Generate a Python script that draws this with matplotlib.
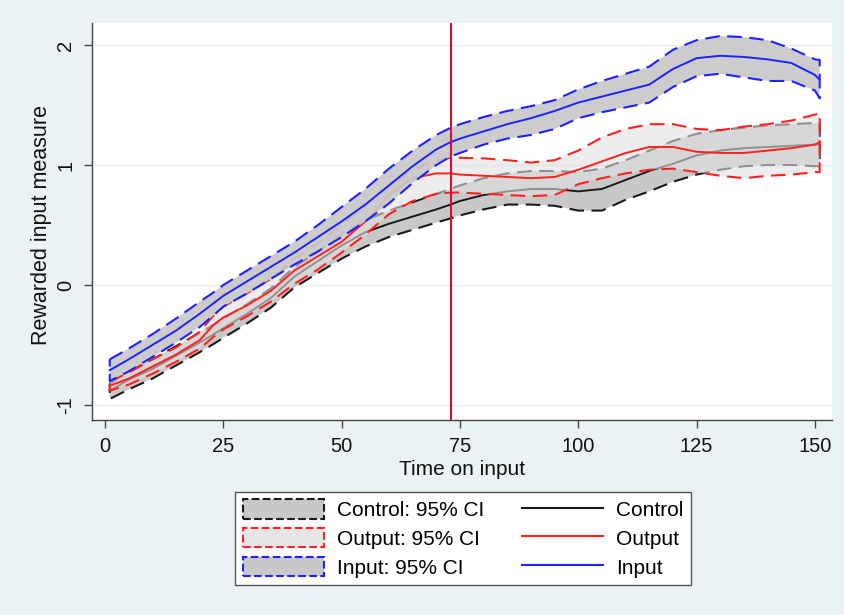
import matplotlib
matplotlib.use("Agg")
import matplotlib.pyplot as plt
from matplotlib.patches import Patch
from matplotlib.lines import Line2D
import numpy as np

plt.rcParams['font.family'] = ['Liberation Sans', 'DejaVu Sans']

time = [1, 5, 10, 15, 20, 23, 25, 30, 35, 40, 45, 50, 55, 60, 65, 70, 73, 75, 80, 85,
        90, 95, 100, 105, 110, 115, 120, 125, 130, 135, 140, 145, 150, 151]

control_mean = [-0.88, -0.79, -0.70, -0.59, -0.48, -0.41, -0.36, -0.24, -0.11, 0.07, 0.20, 0.33, 0.44,
                0.51, 0.57, 0.63, 0.67, 0.70, 0.75, 0.78, 0.80, 0.80, 0.78, 0.80, 0.875, 0.95,
                1.01, 1.08, 1.12, 1.14, 1.15, 1.16, 1.17, 1.17]
control_lo = [-0.95, -0.87, -0.78, -0.67, -0.56, -0.49, -0.44, -0.32, -0.19, -0.02, 0.10, 0.22, 0.32,
              0.40, 0.46, 0.52, 0.555, 0.58, 0.63, 0.67, 0.67, 0.66, 0.62, 0.62, 0.71, 0.78,
              0.86, 0.92, 0.96, 0.99, 1.00, 1.00, 0.99, 0.99]
control_hi = [-0.82, -0.72, -0.62, -0.51, -0.40, -0.33, -0.28, -0.16, -0.03, 0.15, 0.28, 0.43, 0.54,
              0.62, 0.69, 0.76, 0.80, 0.83, 0.89, 0.93, 0.95, 0.95, 0.94, 0.97, 1.04, 1.12,
              1.20, 1.26, 1.29, 1.31, 1.33, 1.34, 1.35, 1.35]

output_mean = [-0.84, -0.78, -0.68, -0.58, -0.46, -0.33, -0.27, -0.17, -0.05, 0.12, 0.24, 0.36, 0.53,
               0.75, 0.89, 0.93, 0.93, 0.92, 0.91, 0.90, 0.89, 0.90, 0.96, 1.03, 1.10, 1.15,
               1.15, 1.11, 1.10, 1.10, 1.12, 1.14, 1.17, 1.19]
output_lo = [-0.88, -0.83, -0.74, -0.64, -0.53, -0.43, -0.37, -0.26, -0.14, 0.01, 0.13, 0.27, 0.42,
             0.59, 0.70, 0.76, 0.77, 0.77, 0.76, 0.75, 0.74, 0.75, 0.84, 0.89, 0.93, 0.96,
             0.97, 0.94, 0.91, 0.89, 0.91, 0.92, 0.94, 0.94]
output_hi = [-0.80, -0.73, -0.62, -0.52, -0.39, -0.25, -0.18, -0.07, 0.05, 0.22, 0.35, 0.50, 0.66,
             0.82, 0.96, 1.04, 1.06, 1.06, 1.055, 1.04, 1.02, 1.04, 1.12, 1.23, 1.30, 1.34,
             1.34, 1.30, 1.29, 1.32, 1.34, 1.37, 1.42, 1.43]

input_mean = [-0.71, -0.62, -0.50, -0.38, -0.24, -0.15, -0.09, 0.03, 0.15, 0.27, 0.40, 0.53, 0.67,
              0.83, 0.99, 1.13, 1.19, 1.22, 1.28, 1.34, 1.39, 1.45, 1.52, 1.57, 1.62, 1.67,
              1.80, 1.89, 1.91, 1.90, 1.88, 1.85, 1.75, 1.71]
input_lo = [-0.80, -0.72, -0.60, -0.48, -0.35, -0.25, -0.18, -0.07, 0.05, 0.17, 0.28, 0.40, 0.53,
            0.68, 0.85, 1.00, 1.07, 1.10, 1.17, 1.22, 1.25, 1.30, 1.39, 1.44, 1.48, 1.52,
            1.65, 1.74, 1.76, 1.73, 1.70, 1.70, 1.62, 1.555]
input_hi = [-0.62, -0.53, -0.41, -0.28, -0.14, -0.06, 0.00, 0.12, 0.24, 0.36, 0.50, 0.65, 0.80,
            0.97, 1.12, 1.25, 1.31, 1.34, 1.40, 1.45, 1.49, 1.54, 1.63, 1.70, 1.76, 1.82,
            1.96, 2.04, 2.075, 2.065, 2.04, 1.97, 1.88, 1.875]

vline_x = 73
x_ticks = [0, 25, 50, 75, 100, 125, 150]
y_ticks = [-1, 0, 1, 2]

BG = '#eaf2f3'

fig = plt.figure(figsize=(8.45, 6.15), dpi=100, facecolor=BG)
ax = fig.add_axes([92/845, 1 - 420/615, (832 - 92)/845, (420 - 23)/615])
ax.set_facecolor('white')

t = np.array(time)
groups = [
    (control_lo, control_hi, control_mean, '#c8c8c8', 1.0, '#1a1a1a', '#1a1a1a'),
    (output_lo, output_hi, output_mean, '#e2e2e2', 0.6, '#ff2020', '#ff2020'),
    (input_lo, input_hi, input_mean, '#c8c8c8', 0.92, '#2020ff', '#2020ff'),
]
for lo, hi, mean, fc, alpha, ec, lc in groups:
    ax.fill_between(t, lo, hi, facecolor=fc, alpha=alpha, edgecolor='none', zorder=2)
    ax.plot(np.r_[t, t[::-1], t[0]], np.r_[hi, lo[::-1], hi[0]], color=ec,
            linestyle='--', dashes=(7, 3.6), lw=1.5, zorder=2)
    ax.plot(t, mean, color=lc, lw=1.4, zorder=2)

ax.axvline(vline_x, color='#d0103a', lw=1.5, zorder=3)

ax.set_xlim(-2.75, 153.6)
ax.set_ylim(-1.125, 2.183)
ax.set_xticks(x_ticks)
ax.set_yticks(y_ticks)
ax.set_yticklabels([str(v) for v in y_ticks], rotation=90, va='center')
ax.grid(axis='y', color='#ebebeb', lw=1.0, zorder=0)
ax.set_axisbelow(True)
for s in ['top', 'right']:
    ax.spines[s].set_visible(False)
for s in ['left', 'bottom']:
    ax.spines[s].set_color('#444444')
    ax.spines[s].set_linewidth(1.0)
ax.tick_params(axis='both', colors='#444444', labelcolor='#111111', labelsize=14.5,
               length=6, width=1.0, direction='out')
ax.tick_params(axis='x', pad=6)
ax.tick_params(axis='y', pad=6)
ax.set_xlabel('Time on input', fontsize=15, color='#111111', labelpad=3)
ax.set_ylabel('Rewarded input measure', fontsize=15.5, color='#111111')
ax.yaxis.set_label_coords(-0.0545, 0.49)

handles = [
    Patch(facecolor='#c8c8c8', edgecolor='#1a1a1a', linestyle='--', linewidth=1.5),
    Patch(facecolor='#e6e6e6', edgecolor='#ff2020', linestyle='--', linewidth=1.5),
    Patch(facecolor='#c8c8c8', edgecolor='#2020ff', linestyle='--', linewidth=1.5),
    Line2D([], [], color='#1a1a1a', lw=1.5),
    Line2D([], [], color='#ff2020', lw=1.5),
    Line2D([], [], color='#2020ff', lw=1.5),
]
labels = ['Control: 95% CI', 'Output: 95% CI', 'Input: 95% CI', 'Control', 'Output', 'Input']
leg = fig.legend(handles, labels, ncol=2, loc='center', bbox_to_anchor=(0.548, 0.1245),
                 bbox_transform=fig.transFigure, fontsize=15, frameon=True, fancybox=False,
                 edgecolor='#555555', facecolor='white', framealpha=1.0,
                 handlelength=3.9, handleheight=1.05, handletextpad=0.63,
                 columnspacing=1.8, labelspacing=0.38, borderpad=0.35)
leg.get_frame().set_linewidth(1.0)

fig.savefig('out.png', dpi=100, facecolor=BG)
